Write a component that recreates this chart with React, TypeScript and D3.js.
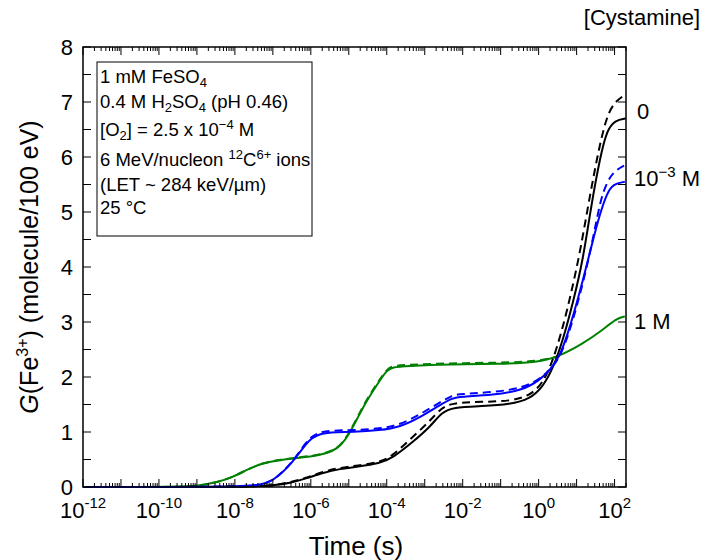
import React from "react";
import * as d3 from "d3";

// ---- data (log10 of time in s, G value) ----
const black0Log = [-12, -7.5, -7.0, -6.55, -6.1, -5.68, -5.23, -4.78, -4.18, -3.84, -3.31, -2.86, -2.55, -2.26, -1.5, -0.75, -0.23, 0.11, 0.38, 0.64, 0.9, 1.17, 1.38, 1.62, 1.8, 2.01, 2.3];
const black0G = [0, 0, 0.03, 0.07, 0.16, 0.26, 0.33, 0.37, 0.43, 0.53, 0.82, 1.09, 1.36, 1.45, 1.47, 1.5, 1.6, 1.82, 2.16, 2.67, 3.34, 4.13, 5.1, 6.0, 6.49, 6.67, 6.7];

const black0DashLog = [-12, -7.5, -7.0, -6.55, -6.1, -5.68, -5.23, -4.78, -4.18, -3.84, -3.4, -2.9, -2.55, -2.25, -1.5, -0.75, -0.23, 0.1, 0.35, 0.6, 0.85, 1.1, 1.35, 1.6, 1.8, 2.0, 2.27];
const black0DashG = [0, 0, 0.03, 0.08, 0.17, 0.28, 0.35, 0.39, 0.45, 0.57, 0.86, 1.17, 1.45, 1.53, 1.55, 1.56, 1.66, 1.88, 2.25, 2.8, 3.5, 4.3, 5.3, 6.2, 6.75, 7.0, 7.13];

const blueLog = [-12, -7.87, -7.3, -7.0, -6.75, -6.5, -6.28, -6.05, -5.84, -5.5, -4.89, -4.18, -3.65, -3.12, -2.6, -2.26, -2.07, -1.2, -0.41, 0.04, 0.3, 0.56, 0.83, 1.17, 1.43, 1.62, 1.8, 1.96, 2.27];
const blueG = [0, 0, 0.04, 0.12, 0.26, 0.44, 0.64, 0.85, 0.95, 1.0, 1.0, 1.03, 1.09, 1.27, 1.49, 1.62, 1.64, 1.67, 1.76, 1.95, 2.13, 2.37, 2.91, 3.76, 4.49, 4.98, 5.34, 5.51, 5.55];

const blueDashLog = [-12, -7.87, -7.3, -7.0, -6.75, -6.5, -6.28, -6.05, -5.84, -5.5, -4.89, -4.18, -3.65, -3.12, -2.6, -2.26, -2.07, -1.2, -0.41, 0.04, 0.3, 0.56, 0.83, 1.17, 1.43, 1.62, 1.8, 2.0, 2.27];
const blueDashG = [0, 0, 0.04, 0.12, 0.27, 0.45, 0.66, 0.88, 0.98, 1.03, 1.03, 1.06, 1.13, 1.32, 1.54, 1.67, 1.69, 1.72, 1.8, 1.97, 2.13, 2.35, 2.85, 3.7, 4.5, 5.2, 5.55, 5.75, 5.85];

const greenLog = [-12, -9.3, -9.0, -8.5, -8.05, -7.7, -7.26, -6.8, -6.3, -5.8, -5.42, -5.2, -5.0, -4.75, -4.52, -4.2, -4.0, -3.85, -3.5, -2.33, -1.0, -0.04, 0.56, 1.17, 1.62, 2.06, 2.27];
const greenG = [0, 0, 0.02, 0.08, 0.18, 0.31, 0.44, 0.49, 0.53, 0.57, 0.65, 0.76, 0.95, 1.28, 1.58, 1.92, 2.12, 2.18, 2.2, 2.23, 2.24, 2.26, 2.38, 2.61, 2.82, 3.07, 3.1];

const greenDashLog = [-12, -9.3, -9.0, -8.5, -8.05, -7.7, -7.26, -6.8, -6.3, -5.8, -5.42, -5.2, -5.0, -4.75, -4.52, -4.2, -4.0, -3.85, -3.5, -2.33, -1.0, -0.04, 0.56];
const greenDashG = [0, 0, 0.02, 0.08, 0.18, 0.31, 0.44, 0.5, 0.54, 0.58, 0.66, 0.77, 0.97, 1.3, 1.6, 1.94, 2.14, 2.2, 2.22, 2.25, 2.26, 2.28, 2.38];

const xTickExps = [-12, -10, -8, -6, -4, -2, 0, 2];
const yTicks = [0, 1, 2, 3, 4, 5, 6, 7, 8];

const series = [
  { logs: greenDashLog, g: greenDashG, color: "#008000", dash: "8,5" },
  { logs: greenLog, g: greenG, color: "#008000", dash: null },
  { logs: black0Log, g: black0G, color: "#000000", dash: null },
  { logs: black0DashLog, g: black0DashG, color: "#000000", dash: "8,5" },
  { logs: blueLog, g: blueG, color: "#0000FF", dash: null },
  { logs: blueDashLog, g: blueDashG, color: "#0000FF", dash: "8,5" },
];

const FONT = "'Liberation Sans', Arial, sans-serif";

export default function App() {
  const left = 83, right = 626, top = 47, bottom = 487;
  const x = d3.scaleLog().domain([1e-12, 200]).range([left, right]);
  const y = d3.scaleLinear().domain([0, 8]).range([bottom, top]);

  const line = d3
    .line<[number, number]>()
    .x((d) => x(Math.pow(10, d[0])))
    .y((d) => y(d[1]))
    .curve(d3.curveBasis);

  const minorX: number[] = [];
  const majorX: number[] = [];
  for (let e = -12; e <= 2; e++) {
    majorX.push(Math.pow(10, e));
    for (let m = 2; m <= 9; m++) {
      const v = m * Math.pow(10, e);
      if (v <= 200) minorX.push(v);
    }
  }
  const yAll = d3.range(0, 8.01, 0.5);

  return (
    <svg width={702} height={560} style={{ position: "absolute", left: 0, top: 0, background: "#fff" }} fontFamily={FONT}>
      <rect x={0} y={0} width={702} height={560} fill="#fff" />
      {/* curves */}
      <g fill="none" strokeWidth={2}>
        {series.map((s, i) => (
          <path
            key={i}
            d={line(s.logs.map((l, j) => [l, s.g[j]] as [number, number])) || ""}
            stroke={s.color}
            strokeDasharray={s.dash || undefined}
          />
        ))}
      </g>
      {/* frame */}
      <rect x={left} y={top} width={right - left} height={bottom - top} fill="none" stroke="#000" strokeWidth={1.5} />
      {/* ticks */}
      <g stroke="#000" strokeWidth={1}>
        {majorX.map((v, i) => (
          <g key={"mx" + i}>
            <line x1={x(v)} x2={x(v)} y1={bottom} y2={bottom - 8} />
            <line x1={x(v)} x2={x(v)} y1={top} y2={top + 8} />
          </g>
        ))}
        {minorX.map((v, i) => (
          <g key={"mn" + i}>
            <line x1={x(v)} x2={x(v)} y1={bottom} y2={bottom - 4} />
            <line x1={x(v)} x2={x(v)} y1={top} y2={top + 4} />
          </g>
        ))}
        {yAll.map((v, i) => (
          <g key={"y" + i}>
            <line x1={left} x2={left + 8} y1={y(v)} y2={y(v)} />
            <line x1={right} x2={right - 8} y1={y(v)} y2={y(v)} />
          </g>
        ))}
      </g>
      {/* x tick labels */}
      {xTickExps.map((e) => (
        <text key={"xl" + e} x={x(Math.pow(10, e))} y={518} textAnchor="middle" fontSize={22} fill="#000">
          10
          <tspan fontSize={15} dy={-10}>{String(e)}</tspan>
        </text>
      ))}
      {/* y tick labels */}
      {yTicks.map((v) => (
        <text key={"yl" + v} x={73} y={y(v) + 8} textAnchor="end" fontSize={22} fill="#000">
          {v}
        </text>
      ))}
      {/* axis titles */}
      <text x={356} y={555} textAnchor="middle" fontSize={26} fill="#000">
        Time (s)
      </text>
      <text transform={`translate(38,${(top + bottom) / 2}) rotate(-90)`} textAnchor="middle" fontSize={25} fill="#000">
        <tspan fontStyle="italic">G</tspan>(Fe
        <tspan fontSize={16} dy={-10}>3+</tspan>
        <tspan dy={10}>) (molecule/100 eV)</tspan>
      </text>
      {/* legend box */}
      <rect x={97} y={62} width={215} height={174} fill="#fff" stroke="#000" strokeWidth={1} />
      <g fontSize={18.5} fill="#000">
        <text x={100} y={83}>
          1 mM FeSO<tspan fontSize={13} dy={4}>4</tspan>
        </text>
        <text x={100} y={108}>
          0.4 M H<tspan fontSize={13} dy={4}>2</tspan>
          <tspan dy={-4}>SO</tspan>
          <tspan fontSize={13} dy={4}>4</tspan>
          <tspan dy={-4}> (pH 0.46)</tspan>
        </text>
        <text x={100} y={136}>
          [O<tspan fontSize={13} dy={4}>2</tspan>
          <tspan dy={-4}>] = 2.5 x 10</tspan>
          <tspan fontSize={13} dy={-7}>−4</tspan>
          <tspan dy={7}> M</tspan>
        </text>
        <text x={100} y={166}>
          6 MeV/nucleon <tspan fontSize={13} dy={-7}>12</tspan>
          <tspan dy={7}>C</tspan>
          <tspan fontSize={13} dy={-7}>6+</tspan>
          <tspan dy={7}> ions</tspan>
        </text>
        <text x={100} y={191}>(LET ~ 284 keV/µm)</text>
        <text x={100} y={214}>25 °C</text>
      </g>
      {/* right labels */}
      <g fontSize={22} fill="#000">
        <text x={700} y={25} textAnchor="end">[Cystamine]</text>
        <text x={637} y={119}>0</text>
        <text x={634} y={186}>
          10<tspan fontSize={15} dy={-9}>−3</tspan>
          <tspan dy={9}> M</tspan>
        </text>
        <text x={634} y={329}>1 M</text>
      </g>
    </svg>
  );
}
